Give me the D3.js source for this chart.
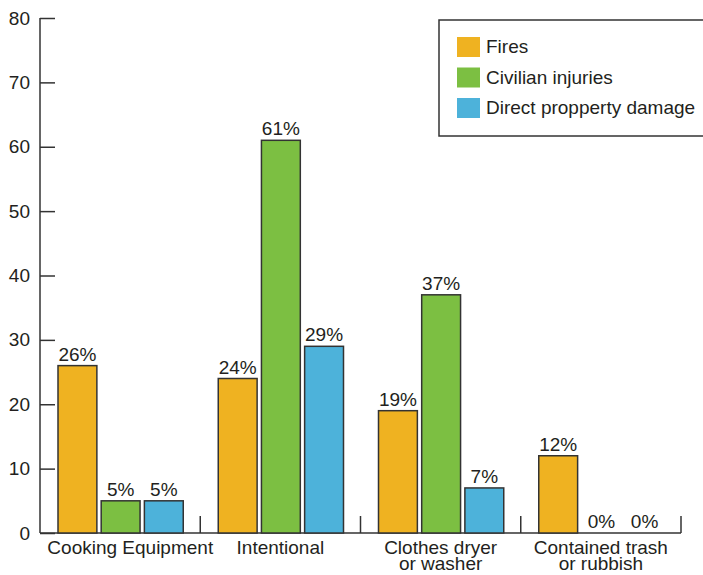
<!DOCTYPE html>
<html>
<head>
<meta charset="utf-8">
<script src="https://cdn.jsdelivr.net/npm/d3@7"></script>
<style>
  body { margin: 0; background: #fff; }
  text { font-family: "Liberation Sans", Arial, Helvetica, sans-serif; fill: #231f20; }
</style>
</head>
<body>
<svg id="main-svg"></svg>
<script>
// categories (multi-line labels split on \n)
let categories = ["Cooking Equipment", "Intentional", "Clothes dryer\nor washer", "Contained trash\nor rubbish"];
let seriesNames = ["Fires", "Civilian injuries", "Direct propperty damage"];
let fires = [26, 24, 19, 12];
let injuries = [5, 61, 37, 0];
let damage = [5, 29, 7, 0];
let yTicks = [0, 10, 20, 30, 40, 50, 60, 70, 80];
let colors = ["#efb221", "#7cbf42", "#4db2da"];

let width = 703, height = 575;
let margin = {left: 40, top: 18, right: 22, bottom: 42};
let svg = d3.select('#main-svg').attr('width', width).attr('height', height);

let x0 = d3.scaleBand()
  .domain(categories)
  .range([margin.left, width - margin.right])
  .paddingInner(0).paddingOuter(0);

let x1 = d3.scaleBand()
  .domain(seriesNames)
  .range([18, x0.bandwidth() - 17])
  .paddingInner(0.1).paddingOuter(0);

let y = d3.scaleLinear()
  .domain([0, 80])
  .range([height - margin.bottom, margin.top]);

let values = [fires, injuries, damage];
let data = categories.map((c, i) => ({
  category: c,
  bars: seriesNames.map((s, j) => ({series: s, value: values[j][i], color: colors[j]}))
}));

// y axis
let yAxis = d3.axisRight(y).tickValues(yTicks).tickSize(15).tickFormat(d3.format('d'));
let yG = svg.append('g')
  .attr('transform', `translate(${margin.left},0)`)
  .call(yAxis);
yG.select('.domain').remove();
yG.selectAll('line').attr('stroke', '#333').attr('stroke-width', 1.5);
yG.selectAll('text')
  .attr('x', -10)
  .attr('text-anchor', 'end')
  .style('font-size', '19px');

svg.append('line')
  .attr('x1', margin.left).attr('x2', margin.left)
  .attr('y1', y(80)).attr('y2', y(0))
  .attr('stroke', '#333').attr('stroke-width', 1.5);

// x axis baseline and group separators
svg.append('line')
  .attr('x1', margin.left).attr('x2', x0.range()[1])
  .attr('y1', y(0)).attr('y2', y(0))
  .attr('stroke', '#333').attr('stroke-width', 1.5);

svg.selectAll('.sep')
  .data(categories)
  .enter()
  .append('line')
  .attr('class', 'sep')
  .attr('x1', d => x0(d) + x0.bandwidth())
  .attr('x2', d => x0(d) + x0.bandwidth())
  .attr('y1', y(0))
  .attr('y2', y(0) - 17)
  .attr('stroke', '#333').attr('stroke-width', 1.5);

// bars
let groups = svg.selectAll('.group')
  .data(data)
  .enter()
  .append('g')
  .attr('class', 'group')
  .attr('transform', d => `translate(${x0(d.category)},0)`);

groups.selectAll('rect')
  .data(d => d.bars.filter(b => b.value > 0))
  .enter()
  .append('rect')
  .attr('x', d => x1(d.series))
  .attr('y', d => y(d.value))
  .attr('width', x1.bandwidth())
  .attr('height', d => y(0) - y(d.value))
  .attr('fill', d => d.color)
  .attr('stroke', '#333')
  .attr('stroke-width', 1.5);

groups.selectAll('.val')
  .data(d => d.bars)
  .enter()
  .append('text')
  .attr('class', 'val')
  .attr('x', d => x1(d.series) + x1.bandwidth() / 2)
  .attr('y', d => y(d.value) - 5)
  .attr('text-anchor', 'middle')
  .style('font-size', '19px')
  .text(d => d.value + '%');

// category labels
let catText = svg.selectAll('.cat')
  .data(categories)
  .enter()
  .append('text')
  .attr('class', 'cat')
  .attr('text-anchor', 'middle')
  .style('font-size', '19px');

catText.selectAll('tspan')
  .data(d => d.split('\n'))
  .enter()
  .append('tspan')
  .attr('dy', (d, i) => i === 0 ? 0 : 16)
  .text(d => d);

catText.each(function (d) {
  let t = d3.select(this);
  let cx = x0(d) + x0.bandwidth() / 2;
  let w = this.getBBox().width;
  // keep the first label clear of the y axis labels
  cx = Math.max(cx, 47 + w / 2);
  t.attr('x', cx).attr('y', 554);
  t.selectAll('tspan').attr('x', cx);
});

// legend
let legend = svg.append('g').attr('transform', 'translate(439,20)');
legend.append('rect')
  .attr('x', 0).attr('y', 0)
  .attr('width', 280).attr('height', 116)
  .attr('fill', 'none')
  .attr('stroke', '#333')
  .attr('stroke-width', 1.5);

let items = legend.selectAll('.item')
  .data(seriesNames)
  .enter()
  .append('g')
  .attr('class', 'item')
  .attr('transform', (d, i) => `translate(18,${17 + i * 30.5})`);

items.append('rect')
  .attr('width', 23).attr('height', 20)
  .attr('fill', (d, i) => colors[i]);

items.append('text')
  .attr('x', 29)
  .attr('y', 16)
  .style('font-size', '19px')
  .text(d => d);
</script>
</body>
</html>
